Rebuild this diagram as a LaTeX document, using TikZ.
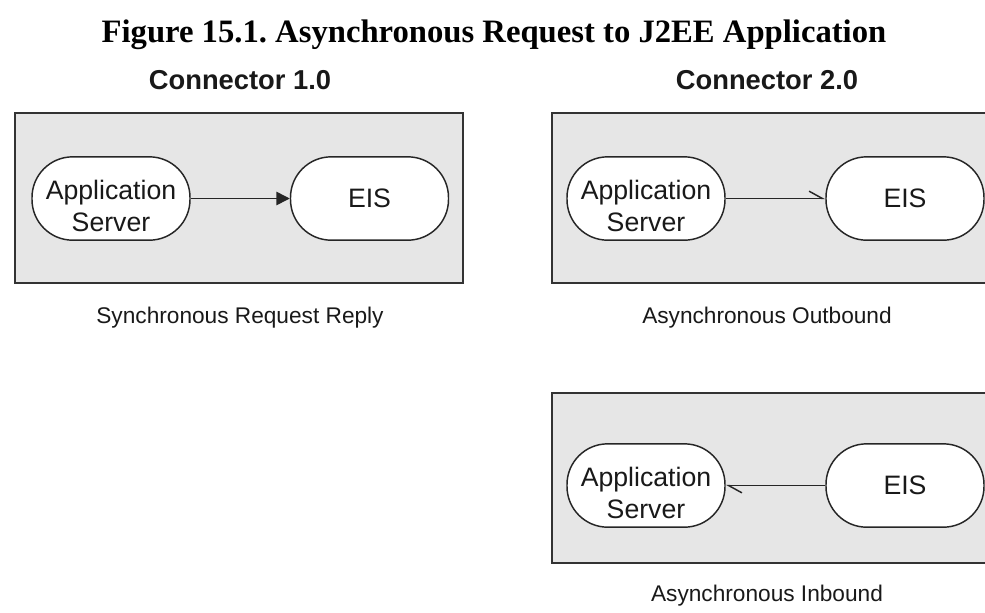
\documentclass[tikz,border=0pt]{standalone}
\usepackage{fontspec}
\setmainfont{Liberation Sans}
\newfontfamily\titlefont{Liberation Serif}
\usetikzlibrary{arrows.meta}
\definecolor{panelgray}{HTML}{E6E6E6}
\definecolor{edgegray}{HTML}{333333}
\tikzset{
  panel/.style={draw=edgegray, fill=panelgray, line width=1.7pt},
  pill/.style={draw=black!85, fill=white, line width=1.1pt, rounded corners=30.5pt,
    minimum width=118.5pt, minimum height=62.5pt, inner sep=0pt},
  pilltext/.style={align=center, inner sep=0pt,
    font=\fontsize{20}{23.5}\selectfont, text=black!90},
  headlabel/.style={font=\fontsize{20.5}{24}\selectfont\bfseries, text=black!90},
  caption/.style={font=\fontsize{17}{20}\selectfont, text=black!90},
  link/.style={draw=black!85, line width=1.1pt},
}
\frenchspacing
\begin{document}
\begin{tikzpicture}[x=0.75pt, y=-0.75pt]
\useasboundingbox (0,0) rectangle (985,612);
\clip (0,0) rectangle (985,612);
\node[font=\titlefont\fontsize{24.5}{28}\selectfont\bfseries] (title) at (494,35) {Figure 15.1. Asynchronous Request to J2EE Application};
\node[headlabel] (h1) at (240,80) {Connector 1.0};
\node[headlabel] (h2) at (767,80) {Connector 2.0};
% panels
\path[panel] (15,113) rectangle (463,283);
\path[panel] (552,113) rectangle (995,283);
\path[panel] (552,393) rectangle (995,563);
% left panel
\node[pill] (as1) at (111,198.5) {};
\node[pilltext] (as1t) at (111,206) {Application\\Server};
\node[pill, pilltext] (eis1) at (369.5,198.5) {EIS};
\draw[link, -{Triangle[length=10pt,width=10pt]}] (as1) -- (eis1);
% right top panel
\node[pill] (as2) at (646,198.5) {};
\node[pilltext] (as2t) at (646,206) {Application\\Server};
\node[pill, pilltext] (eis2) at (905,198.5) {EIS};
\draw[link, -{Straight Barb[left,length=10pt,width=11pt]}] (as2) -- (eis2);
% right bottom panel
\node[pill] (as3) at (646,485.5) {};
\node[pilltext] (as3t) at (646,493) {Application\\Server};
\node[pill, pilltext] (eis3) at (905,485.5) {EIS};
\draw[link, -{Straight Barb[left,length=10pt,width=11pt]}] (eis3) -- (as3);
% captions
\node[caption] (c1) at (240,318) {Synchronous Request Reply};
\node[caption] (c2) at (767,318) {Asynchronous Outbound};
\node[caption] (c3) at (767,596) {Asynchronous Inbound};
\end{tikzpicture}
\end{document}
